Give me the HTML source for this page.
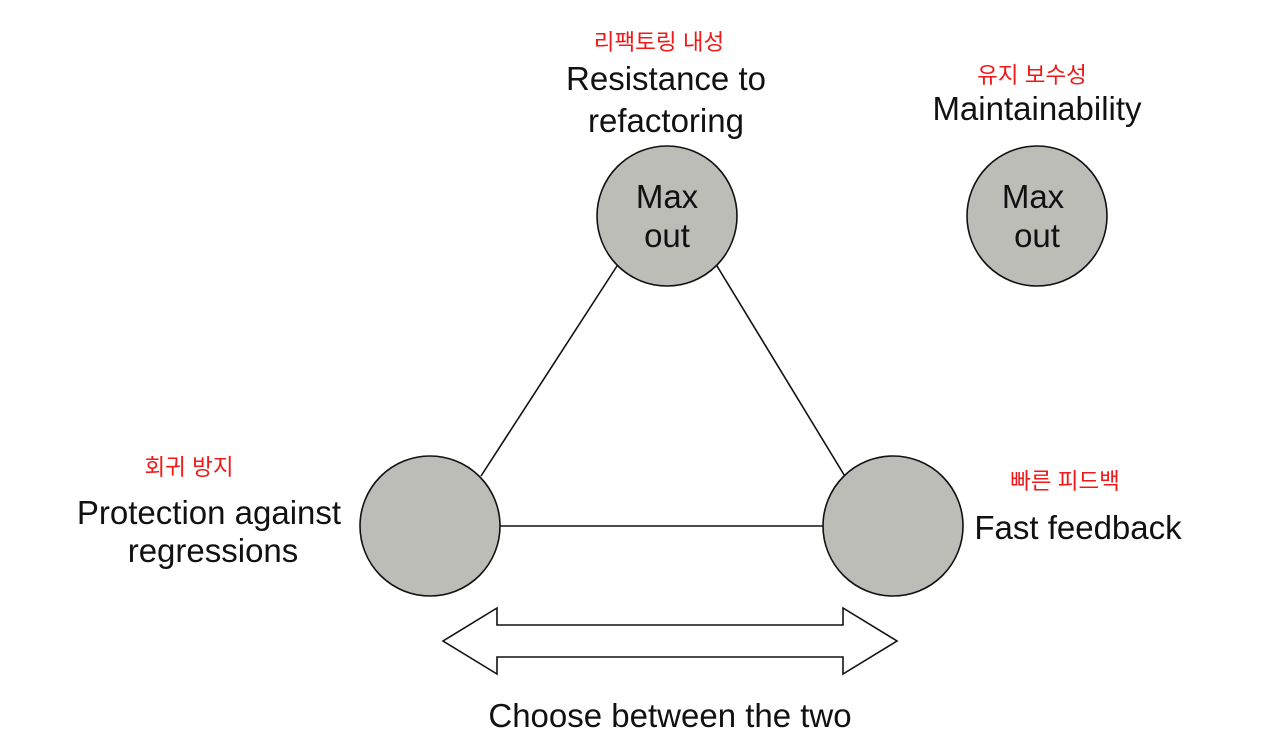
<!DOCTYPE html>
<html><head><meta charset="utf-8"><style>
body{margin:0;background:#fff;}
svg{display:block}
text{font-family:"Liberation Sans","Noto Sans CJK KR",sans-serif;}
.m{font-size:33px;fill:#111;}
.k{font-size:22.5px;fill:#f01818;}
</style></head><body>
<svg width="1272" height="746" viewBox="0 0 1272 746">
<g stroke="#111" stroke-width="1.6">
<line x1="617" y1="266" x2="481" y2="476"/>
<line x1="717" y1="266" x2="846" y2="478"/>
<line x1="500" y1="526" x2="823" y2="526"/>
</g>
<g fill="#bdbdb7" stroke="#111" stroke-width="1.6">
<circle cx="667" cy="216" r="70"/>
<circle cx="1037" cy="216" r="70"/>
<circle cx="430" cy="526" r="70"/>
<circle cx="893" cy="526" r="70"/>
</g>
<polygon points="443,641 497,608 497,625 843,625 843,608 897,641 843,674 843,657 497,657 497,674" fill="#fff" stroke="#111" stroke-width="1.6"/>
<g text-anchor="middle" transform="translate(0,2)">
<text class="k" x="659" y="48">리팩토링 내성</text>
<text class="m" x="666" y="88">Resistance to</text>
<text class="m" x="666" y="130">refactoring</text>
<text class="m" x="667" y="206">Max</text>
<text class="m" x="667" y="245">out</text>
<text class="k" x="1032" y="81">유지 보수성</text>
<text class="m" x="1037" y="118">Maintainability</text>
<text class="m" x="1033" y="206">Max</text>
<text class="m" x="1037" y="245">out</text>
<text class="k" x="189" y="473">회귀 방지</text>
<text class="m" x="209" y="522">Protection against</text>
<text class="m" x="213" y="560">regressions</text>
<text class="k" x="1065" y="487">빠른 피드백</text>
<text class="m" x="1078" y="537">Fast feedback</text>
<text class="m" x="670" y="725">Choose between the two</text>
</g>
</svg>
</body></html>
